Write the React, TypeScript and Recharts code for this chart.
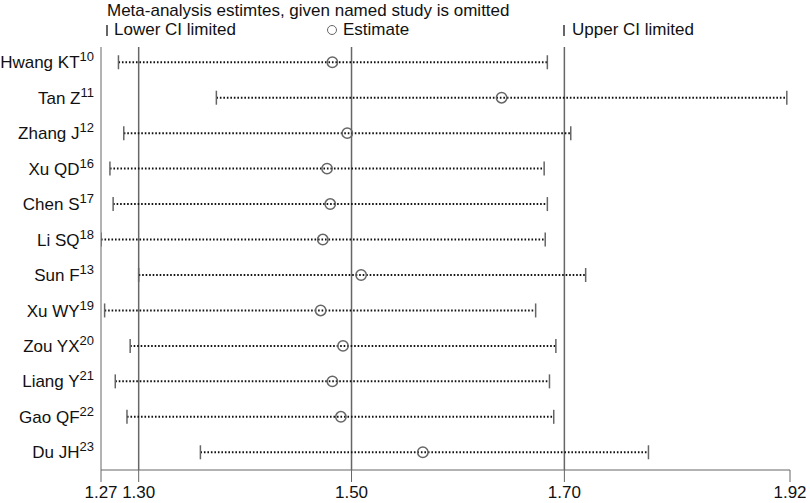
import React from "react";
import {
  ReferenceLine,
  Scatter,
  ScatterChart,
  XAxis,
  YAxis,
} from "recharts";

// omitted study, with its reference number (superscript)
const STUDIES = [
  "Hwang KT",
  "Tan Z",
  "Zhang J",
  "Xu QD",
  "Chen S",
  "Li SQ",
  "Sun F",
  "Xu WY",
  "Zou YX",
  "Liang Y",
  "Gao QF",
  "Du JH",
];
const REFS = ["10", "11", "12", "16", "17", "18", "13", "19", "20", "21", "22", "23"];

const LOWER = [1.281, 1.373, 1.286, 1.273, 1.276, 1.2646, 1.300, 1.268, 1.292, 1.278, 1.289, 1.358];
const ESTIMATE = [1.482, 1.641, 1.496, 1.477, 1.480, 1.473, 1.509, 1.471, 1.492, 1.482, 1.490, 1.567];
const UPPER = [1.684, 1.909, 1.706, 1.681, 1.684, 1.682, 1.720, 1.673, 1.692, 1.686, 1.690, 1.779];

// pooled lower CI, estimate, upper CI
const POOLED = [1.3, 1.5, 1.7];

const AXIS_MIN = 1.2646;
const AXIS_MAX = 1.912;
const X_TICKS = [AXIS_MIN, 1.3, 1.5, 1.7, AXIS_MAX];
const X_TICK_LABELS = ["1.27", "1.30", "1.50", "1.70", "1.92"];

const FONT = "'Liberation Sans', Arial, sans-serif";
const GRAY = "#666";

const rows = STUDIES.map((study, i) => ({
  i,
  study,
  ref: REFS[i],
  lo: LOWER[i],
  est: ESTIMATE[i],
  hi: UPPER[i],
}));

const StudyTick = (props: any) => {
  const { x, y, payload } = props;
  const row = rows[payload.value];
  if (!row) return null;
  return (
    <text
      x={x}
      y={y}
      dy="0.36em"
      textAnchor="end"
      fontSize={17}
      fontFamily={FONT}
      fill="#111"
    >
      <tspan>{row.study}</tspan>
      <tspan dy={-7} fontSize={13}>
        {row.ref}
      </tspan>
    </text>
  );
};

const Cap = (props: any) => {
  const { cx, cy } = props;
  return (
    <line x1={cx} x2={cx} y1={cy - 7} y2={cy + 7} stroke={GRAY} strokeWidth={1.5} />
  );
};

const Ring = (props: any) => {
  const { cx, cy } = props;
  return <circle cx={cx} cy={cy} r={5.2} fill="none" stroke={GRAY} strokeWidth={1.5} />;
};

const App: React.FC = () => {
  const lowData = rows.map((r) => ({ x: r.lo, y: r.i }));
  const estData = rows.map((r) => ({ x: r.est, y: r.i }));
  const highData = rows.map((r) => ({ x: r.hi, y: r.i }));

  return (
    <div
      style={{
        position: "absolute",
        left: 0,
        top: 0,
        width: 810,
        height: 503,
        background: "#fff",
        fontFamily: FONT,
        color: "#111",
      }}
    >
      <div style={{ position: "absolute", left: 107, top: 1, fontSize: 17, lineHeight: "20px" }}>
        Meta-analysis estimtes, given named study is omitted
      </div>
      <div style={{ position: "absolute", left: 0, top: 20, width: 810, height: 20, fontSize: 17, lineHeight: "20px" }}>
        <span style={{ position: "absolute", left: 106, top: 5, width: 1.5, height: 11, background: GRAY }} />
        <span style={{ position: "absolute", left: 114, top: 0 }}>Lower CI limited</span>
        <span
          style={{
            position: "absolute",
            left: 327,
            top: 5,
            width: 8,
            height: 8,
            border: `1.4px solid ${GRAY}`,
            borderRadius: "50%",
          }}
        />
        <span style={{ position: "absolute", left: 343, top: 0 }}>Estimate</span>
        <span style={{ position: "absolute", left: 563, top: 5, width: 1.5, height: 11, background: GRAY }} />
        <span style={{ position: "absolute", left: 572, top: 0 }}>Upper CI limited</span>
      </div>

      <ScatterChart
        width={810}
        height={503}
        margin={{ top: 47, right: 20, bottom: 0, left: 0 }}
        style={{ position: "absolute", left: 0, top: 0 }}
      >
        <XAxis
          type="number"
          dataKey="x"
          domain={[AXIS_MIN, AXIS_MAX]}
          ticks={X_TICKS}
          interval={0}
          tickFormatter={(v: number, idx: number) => X_TICK_LABELS[idx] ?? v.toFixed(2)}
          height={33}
          tickSize={12}
          tickMargin={4}
          stroke={GRAY}
          tick={{ fill: "#111", fontSize: 17, fontFamily: FONT }}
          allowDataOverflow
        />
        <YAxis
          type="number"
          dataKey="y"
          domain={[-0.43, 11.5]}
          reversed
          ticks={rows.map((r) => r.i)}
          interval={0}
          width={101}
          tickLine={false}
          tickSize={0}
          tickMargin={7}
          stroke={GRAY}
          tick={<StudyTick />}
          allowDataOverflow
        />
        {POOLED.map((v) => (
          <ReferenceLine key={`p${v}`} x={v} stroke={GRAY} strokeWidth={1.5} />
        ))}
        {rows.map((r) => (
          <ReferenceLine
            key={`s${r.i}`}
            segment={[
              { x: r.lo, y: r.i },
              { x: r.hi, y: r.i },
            ]}
            stroke="#111"
            strokeWidth={2}
            strokeDasharray="1.6 1.9"
          />
        ))}
        <Scatter data={lowData} shape={<Cap />} isAnimationActive={false} />
        <Scatter data={highData} shape={<Cap />} isAnimationActive={false} />
        <Scatter data={estData} shape={<Ring />} isAnimationActive={false} />
      </ScatterChart>
    </div>
  );
};

export default App;
